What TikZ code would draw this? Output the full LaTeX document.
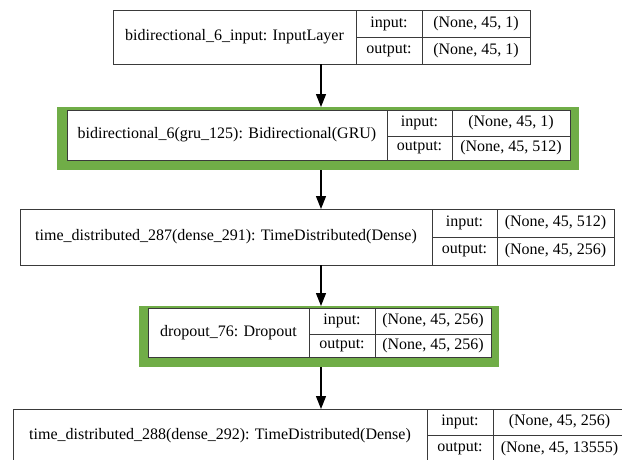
\documentclass[tikz,border=0pt]{standalone}
\usepackage{fontspec}
\setmainfont{Liberation Serif}
\usetikzlibrary{arrows.meta}
\definecolor{frameline}{HTML}{3A3A3A}
\definecolor{kgreen}{HTML}{70AD47}
\tikzset{
  cellbox/.style={draw=frameline, line width=1pt, fill=white, inner sep=0pt, outer sep=0pt,
    font=\fontsize{16}{19}\selectfont, text=black},
  greenbox/.style={fill=kgreen, draw=none, inner sep=0pt, outer sep=0pt},
  arr/.style={draw=black, line width=1.2pt, -{Triangle[length=13pt,width=10pt]}},
}
\newcommand\cell[7][cellbox]{\node[#1, minimum width={(#5-#3)*1pt}, minimum height={(#6-#4)*1pt}] (#2) at ({(#3+#5)/2},{(#4+#6)/2}) {#7};}
\begin{document}
\begin{tikzpicture}[x=1pt,y=-1pt]
\useasboundingbox (0,0) rectangle (622,459);
\clip (0,0) rectangle (622,459);
\fill[white] (0,0) rectangle (622,459);
\coordinate (ax) at (321,0);
% layer 1
\cell{b1}{113}{10}{530}{64}{}
\cell{b1t}{113}{10}{356}{64}{bidirectional\_6\_input: InputLayer}
\cell{b1il}{356}{10}{422}{37}{input:}
\cell{b1ol}{356}{37}{422}{64}{output:}
\cell{b1iv}{422}{10}{530}{37}{(None, 45, 1)}
\cell{b1ov}{422}{37}{530}{64}{(None, 45, 1)}
% layer 2
\cell[greenbox]{g2}{57}{107}{579}{170}{}
\cell{b2}{67}{110}{570}{160}{}
\cell{b2t}{67}{110}{387}{160}{bidirectional\_6(gru\_125): Bidirectional(GRU)}
\cell{b2il}{387}{110}{452}{136}{input:}
\cell{b2ol}{387}{136}{452}{160}{output:}
\cell{b2iv}{452}{110}{570}{136}{(None, 45, 1)}
\cell{b2ov}{452}{136}{570}{160}{(None, 45, 512)}
% layer 3
\cell{b3}{20}{209}{614}{265}{}
\cell{b3t}{20}{209}{432}{265}{time\_distributed\_287(dense\_291): TimeDistributed(Dense)}
\cell{b3il}{432}{209}{497}{237}{input:}
\cell{b3ol}{432}{237}{497}{265}{output:}
\cell{b3iv}{497}{209}{614}{237}{(None, 45, 512)}
\cell{b3ov}{497}{237}{614}{265}{(None, 45, 256)}
% layer 4
\cell[greenbox]{g4}{139}{306}{499}{367}{}
\cell{b4}{148}{308}{491}{357}{}
\cell{b4t}{148}{308}{309}{357}{dropout\_76: Dropout}
\cell{b4il}{309}{308}{375}{334}{input:}
\cell{b4ol}{309}{334}{375}{357}{output:}
\cell{b4iv}{375}{308}{491}{334}{(None, 45, 256)}
\cell{b4ov}{375}{334}{491}{357}{(None, 45, 256)}
% layer 5
\cell{b5}{13}{409}{626}{463}{}
\cell{b5t}{13}{409}{427}{463}{time\_distributed\_288(dense\_292): TimeDistributed(Dense)}
\cell{b5il}{427}{409}{493}{435}{input:}
\cell{b5ol}{427}{435}{493}{463}{output:}
\cell{b5iv}{493}{409}{626}{435}{(None, 45, 256)}
\cell{b5ov}{493}{435}{626}{463}{(None, 45, 13555)}
% connectors
\draw[arr] (b1.south -| ax) -- (g2.north -| ax);
\draw[arr] (g2.south -| ax) -- (b3.north -| ax);
\draw[arr] (b3.south -| ax) -- (g4.north -| ax);
\draw[arr] (g4.south -| ax) -- (b5.north -| ax);
\end{tikzpicture}
\end{document}
